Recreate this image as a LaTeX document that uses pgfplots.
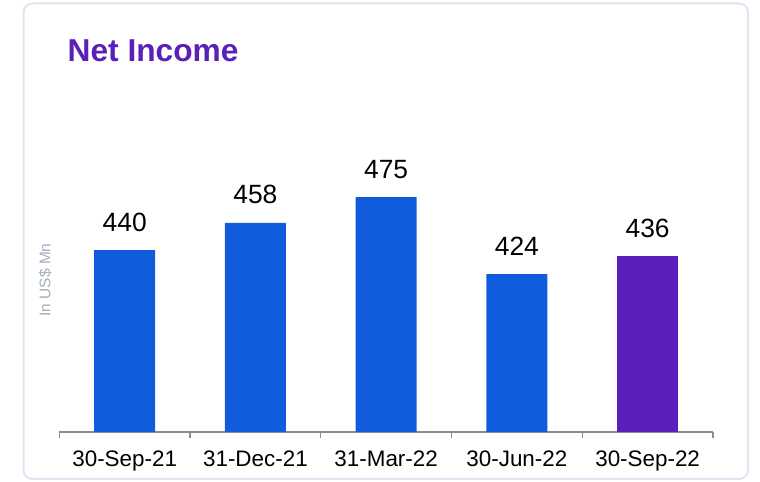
\documentclass[border=0pt]{standalone}
\usepackage{pgfplots}
\pgfplotsset{compat=1.18}
\usepackage{fontspec}
\setmainfont{Liberation Sans}
\definecolor{barblue}{HTML}{105CDC}
\definecolor{barpurple}{HTML}{5C1FBD}
\definecolor{titlepurple}{HTML}{5B21B6}
\definecolor{boxborder}{HTML}{DDE6F0}
\definecolor{axgray}{HTML}{8C8C8C}
\definecolor{ylabgray}{HTML}{A3ADBA}
\begin{document}
\begin{tikzpicture}
\useasboundingbox (0,0) rectangle (760bp,482bp);
\draw[boxborder, line width=2bp, rounded corners=9bp] (23.5bp,3bp) rectangle (748bp,478.5bp);
\node[anchor=base west, inner sep=0pt, text=titlepurple, font=\fontsize{31.8}{35}\selectfont\bfseries] at (67.5bp,420bp) {Net Income};
\begin{axis}[
  at={(59.3bp,50bp)}, anchor=south west,
  scale only axis,
  width=653.7bp, height=272.5bp,
  xmin=-0.5, xmax=4.5,
  ymin=319.5, ymax=500,
  axis x line*=bottom,
  axis y line*=left,
  y axis line style={draw=none},
  ytick=\empty,
  x axis line style={axgray, line width=1.4bp, -},
  ybar, bar width=61bp, bar shift=0pt,
  xtick={0,1,2,3,4},
  xticklabels={30-Sep-21,31-Dec-21,31-Mar-22,30-Jun-22,30-Sep-22},
  major tick length=0pt,
  minor xtick={-0.5,0.5,1.5,2.5,3.5,4.5},
  minor tick length=6bp,
  tick align=outside,
  minor tick style={axgray, line width=1.4bp},
  xticklabel style={anchor=base, yshift=-35bp, font=\fontsize{22.5}{25}\selectfont, text=black},
  ylabel={In US\$ Mn},
  ylabel style={at={(axis description cs:-0.0214,0.558)}, anchor=center, rotate=0, font=\fontsize{15.5}{17}\selectfont, text=ylabgray},
  /pgf/number format/assume math mode=true,
  /pgf/number format/1000 sep={},
  nodes near coords,
  nodes near coords style={anchor=base, yshift=19bp, font=\fontsize{26.5}{29}\selectfont, text=black},
  clip=false,
]
\addplot[fill=barblue, draw=none] coordinates {(0,440) (1,458) (2,475) (3,424)};
\addplot[fill=barpurple, draw=none] coordinates {(4,436)};
\end{axis}
\end{tikzpicture}
\end{document}
